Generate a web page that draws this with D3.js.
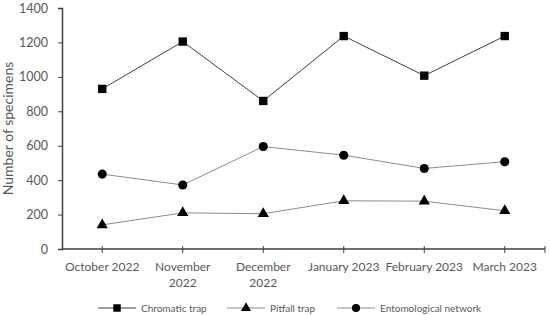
<!DOCTYPE html>
<html>
<head>
<meta charset="utf-8">
<script src="https://cdn.jsdelivr.net/npm/d3@7"></script>
<style>
  body { margin: 0; background: #fff; }
  text { font-family: Lato, "Open Sans", sans-serif; fill: #595959; }
</style>
</head>
<body>
<div id="chart"></div>
<script>
// data
const months = ["October 2022", "November 2022", "December 2022", "January 2023", "February 2023", "March 2023"];
const monthLines = [["October 2022"], ["November", "2022"], ["December", "2022"], ["January 2023"], ["February 2023"], ["March 2023"]];
const chromatic = [930, 1205, 860, 1237, 1007, 1237];
const pitfall = [140, 210, 205, 280, 278, 222];
const entomological = [435, 372, 595, 545, 468, 507];
const yTicks = [0, 200, 400, 600, 800, 1000, 1200, 1400];

const series = [
    { name: "Chromatic trap", values: chromatic, symbol: d3.symbolSquare, size: 70, line: "#404040" },
    { name: "Pitfall trap", values: pitfall, symbol: d3.symbolTriangle, size: 55, line: "#8c8c8c" },
    { name: "Entomological network", values: entomological, symbol: d3.symbolCircle, size: 65, line: "#8c8c8c" }
];

const width = 550, height = 315;
const margin = { top: 8, right: 5, bottom: 66, left: 62 };

const svg = d3.select("#chart").append("svg")
    .attr("width", width)
    .attr("height", height);

const x = d3.scaleBand().domain(months).range([margin.left, width - margin.right]).padding(0);
const y = d3.scaleLinear().domain([0, 1400]).range([height - margin.bottom, margin.top]);

// y axis
const yAxis = svg.append("g")
    .attr("transform", "translate(" + margin.left + ",0)")
    .call(d3.axisLeft(y).tickValues(yTicks).tickFormat(d3.format("d")).tickSize(4).tickPadding(10));
yAxis.select(".domain").attr("stroke", "#404040").attr("stroke-width", 1.5);
yAxis.selectAll(".tick line").attr("stroke", "#404040");
yAxis.selectAll(".tick text").style("font-size", "12.5px").attr("fill", "#595959");

// x axis: ticks at category centres plus the end
const x0 = y(0);
svg.append("line")
    .attr("x1", margin.left).attr("x2", width - margin.right)
    .attr("y1", x0).attr("y2", x0)
    .attr("stroke", "#404040").attr("stroke-width", 1.5);
const tickXs = months.map(m => x(m) + x.bandwidth() / 2).concat([width - margin.right]);
svg.selectAll(".xtick").data(tickXs).enter().append("line")
    .attr("class", "xtick")
    .attr("x1", d => d).attr("x2", d => d)
    .attr("y1", x0 - 3).attr("y2", x0 + 4)
    .attr("stroke", "#404040");

const xLabels = svg.selectAll(".xlabel").data(months).enter().append("text")
    .attr("class", "xlabel")
    .attr("text-anchor", "middle")
    .attr("x", d => x(d) + x.bandwidth() / 2)
    .attr("y", x0 + 22)
    .style("font-size", "12px");
xLabels.each(function (d, i) {
    const t = d3.select(this);
    monthLines[i].forEach((s, j) => {
        t.append("tspan").attr("x", x(d) + x.bandwidth() / 2).attr("dy", j === 0 ? 0 : 16).text(s);
    });
});

// y title
svg.append("text")
    .attr("transform", "translate(13," + (y(700)) + ") rotate(-90)")
    .attr("text-anchor", "middle")
    .style("font-size", "14px")
    .text("Number of specimens");

// lines and markers
const line = d3.line().x((d, i) => x(months[i]) + x.bandwidth() / 2).y(d => y(d));

series.forEach(s => {
    svg.append("path")
        .datum(s.values)
        .attr("fill", "none")
        .attr("stroke", s.line)
        .attr("stroke-width", 1)
        .attr("d", line);
    svg.append("g").selectAll("path").data(s.values).enter().append("path")
        .attr("d", d3.symbol().type(s.symbol).size(s.size))
        .attr("transform", (d, i) => "translate(" + (x(months[i]) + x.bandwidth() / 2) + "," + y(d) + ")")
        .attr("fill", "#000");
});

// legend
const legendY = 308;
const legendX = [98, 227, 337];
series.forEach((s, i) => {
    const g = svg.append("g").attr("transform", "translate(" + legendX[i] + "," + legendY + ")");
    g.append("line").attr("x1", 0).attr("x2", 38).attr("y1", 0).attr("y2", 0)
        .attr("stroke", s.line).attr("stroke-width", 1);
    g.append("path").attr("d", d3.symbol().type(s.symbol).size(s.size * 0.8))
        .attr("transform", "translate(19,0)").attr("fill", "#000");
    g.append("text").attr("x", 43).attr("y", 0).attr("dy", "0.35em")
        .style("font-size", "10px").text(s.name);
});
</script>
</body>
</html>
